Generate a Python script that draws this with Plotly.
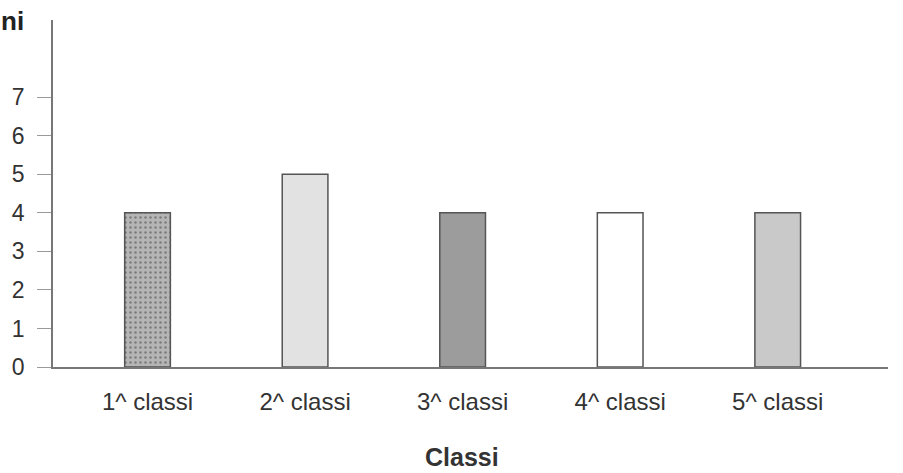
import plotly.graph_objects as go

categories = ["1^ classi", "2^ classi", "3^ classi", "4^ classi", "5^ classi"]
values = [4, 5, 4, 4, 4]
bar_colors = ["#b5b5b5", "#e2e2e2", "#9c9c9c", "#ffffff", "#c9c9c9"]
patterns = [".", "", "", "", ""]
y_ticks = [0, 1, 2, 3, 4, 5, 6, 7]

fig = go.Figure()
fig.add_trace(go.Bar(
    x=list(range(len(categories))), y=values,
    width=0.29,
    marker=dict(color=bar_colors, line=dict(color="#555555", width=1.5),
                pattern=dict(shape=patterns, size=5, solidity=0.2, fgcolor="#d6d6d6")),
    showlegend=False,
))

W, H = 903, 473
L, R, T, B = 53, 15, 20, 106
PW, PH = W - L - R, H - T - B

def px(x):
    return (x - L) / PW

def py(y):
    return (H - B - y) / PH

fig.update_layout(
    width=W, height=H,
    margin=dict(l=L, r=R, t=T, b=B, autoexpand=False),
    paper_bgcolor="white", plot_bgcolor="white",
    font=dict(family="Liberation Sans, Arial, sans-serif", size=23, color="#333333"),
    xaxis=dict(
        range=[-0.6, 4.7],
        tickvals=list(range(len(categories))), ticktext=categories,
        showline=True, linecolor="#777777", linewidth=1.5,
        ticks="", showgrid=False, zeroline=False, automargin=False,
        ticklabelstandoff=12,
        tickfont=dict(size=24, color="#333333"),
    ),
    yaxis=dict(
        range=[0, 9.0],
        tickvals=y_ticks,
        showline=True, linecolor="#777777", linewidth=1.5,
        ticks="outside", ticklen=14, tickcolor="#999999", tickwidth=1,
        showgrid=False, zeroline=False, automargin=False,
        ticklabelstandoff=8,
        tickfont=dict(size=23, color="#333333"),
    ),
    annotations=[
        dict(text="<b>Classi</b>", x=px(462), y=py(457), xref="paper", yref="paper",
             xanchor="center", yanchor="middle", showarrow=False,
             font=dict(size=25, color="#333333")),
        dict(text="<b>ni</b>", x=px(12), y=py(21), xref="paper", yref="paper",
             xanchor="center", yanchor="middle", showarrow=False,
             font=dict(size=26, color="#222222")),
    ],
)
fig.write_html("out.html", config={"displayModeBar": False},
               post_script="document.body.style.margin='0';")
